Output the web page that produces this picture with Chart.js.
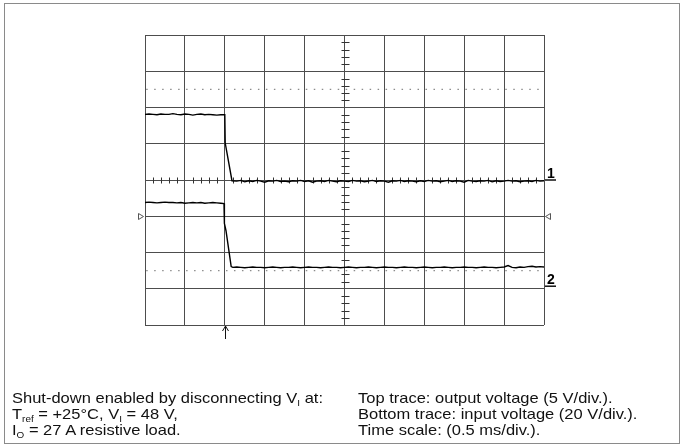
<!DOCTYPE html>
<html>
<head>
<meta charset="utf-8">
<script src="https://cdn.jsdelivr.net/npm/chart.js@4/dist/chart.umd.min.js"></script>
<style>
  html, body { margin: 0; padding: 0; background: #fff; }
  #page { position: relative; width: 683px; height: 446px; overflow: hidden; }
  #frame { position: absolute; left: 4px; top: 3px; width: 674px; height: 439px; border: 1px solid #8a8a8a; }
  #scope { position: absolute; left: 0; top: 0; }
  .note { position: absolute; font-family: "Liberation Sans", Arial, Helvetica, sans-serif; font-size: 15px;
          color: #111; white-space: nowrap; transform-origin: 0 0; transform: scaleX(1.1); line-height: 16px; }
  .note sub { font-size: 9px; vertical-align: -3px; line-height: 0; }
</style>
</head>
<body>
<div id="page">
  <div id="frame"></div>
  <canvas id="scope" width="683" height="446"></canvas>
  <div class="note" style="left:12px; top:390px;">
    Shut-down enabled by disconnecting V<sub>I</sub> at:<br>
    T<sub>ref</sub> = +25°C, V<sub>I</sub> = 48 V,<br>
    I<sub>O</sub> = 27 A resistive load.
  </div>
  <div class="note" style="left:358px; top:390px;">
    Top trace: output voltage (5 V/div.).<br>
    Bottom trace: input voltage (20 V/div.).<br>
    Time scale: (0.5 ms/div.).
  </div>
</div>
<script>
// Screen units: time in divisions (0..10), amplitude in divisions (-4..4, centre = 0)
const divisionsX = 10;
const divisionsY = 8;
const minorPerDiv = 5;

// Channel 1: output voltage (5 V/div), ground reference at 0 div
const ch1Times = [
  0.0, 0.1, 0.2, 0.3, 0.4, 0.5, 0.6, 0.7, 0.8, 0.9,
  1.0, 1.1, 1.2, 1.3, 1.4, 1.5, 1.6, 1.7, 1.8, 1.9,
  2.00, 2.01, 2.18,
  2.3, 2.4, 2.5, 2.6, 2.7, 2.8, 2.9, 3.0, 3.1, 3.2,
  3.3, 3.4, 3.5, 3.6, 3.7, 3.8, 3.9, 4.0, 4.1, 4.2,
  4.3, 4.4, 4.5, 4.6, 4.7, 4.8, 4.9, 5.0, 5.1, 5.2,
  5.3, 5.4, 5.5, 5.6, 5.7, 5.8, 5.9, 6.0, 6.1, 6.2,
  6.3, 6.4, 6.5, 6.6, 6.7, 6.8, 6.9, 7.0, 7.1, 7.2,
  7.3, 7.4, 7.5, 7.6, 7.7, 7.8, 7.9, 8.0, 8.1, 8.2,
  8.3, 8.4, 8.5, 8.6, 8.7, 8.8, 8.9, 9.0, 9.1, 9.2,
  9.3, 9.4, 9.5, 9.6, 9.7, 9.8, 9.9, 10.0
];
const ch1Values = [
  1.81, 1.82, 1.81, 1.80, 1.82, 1.81, 1.81, 1.83, 1.81, 1.80,
  1.82, 1.81, 1.79, 1.81, 1.82, 1.80, 1.81, 1.80, 1.79, 1.80,
  1.80, 1.02, -0.02,
  -0.03, -0.01, -0.05, -0.02, -0.04, -0.01, -0.03, -0.06, -0.02, -0.03,
  -0.01, -0.04, -0.03, -0.05, -0.02, -0.03, -0.01, -0.04, -0.02, -0.06,
  -0.03, -0.02, -0.04, -0.01, -0.03, -0.05, -0.02, -0.03, -0.04, -0.01,
  -0.03, -0.02, -0.05, -0.03, -0.01, -0.04, -0.02, -0.03, -0.06, -0.02,
  -0.03, -0.01, -0.04, -0.02, -0.03, -0.05, -0.02, -0.04, -0.01, -0.03,
  -0.02, -0.05, -0.03, -0.01, -0.04, -0.02, -0.03, -0.06, -0.01, -0.03,
  -0.04, -0.02, -0.03, -0.01, -0.05, -0.02, -0.04, -0.03, -0.01, -0.03,
  -0.02, -0.05, -0.03, -0.02, -0.04, -0.01, -0.03, -0.02
];

// Channel 2: input voltage (20 V/div), ground reference near -3 div
const ch2Times = [
  0.0, 0.1, 0.2, 0.3, 0.4, 0.5, 0.6, 0.7, 0.8, 0.9,
  1.0, 1.1, 1.2, 1.3, 1.4, 1.5, 1.6, 1.7, 1.8, 1.9,
  1.98, 1.99, 2.03, 2.16,
  2.2, 2.3, 2.4, 2.5, 2.6, 2.7, 2.8, 2.9, 3.0, 3.1,
  3.2, 3.3, 3.4, 3.5, 3.6, 3.7, 3.8, 3.9, 4.0, 4.1,
  4.2, 4.3, 4.4, 4.5, 4.6, 4.7, 4.8, 4.9, 5.0, 5.1,
  5.2, 5.3, 5.4, 5.5, 5.6, 5.7, 5.8, 5.9, 6.0, 6.1,
  6.2, 6.3, 6.4, 6.5, 6.6, 6.7, 6.8, 6.9, 7.0, 7.1,
  7.2, 7.3, 7.4, 7.5, 7.6, 7.7, 7.8, 7.9, 8.0, 8.1,
  8.2, 8.3, 8.4, 8.5, 8.6, 8.7, 8.8, 8.9, 9.0, 9.1,
  9.2, 9.3, 9.4, 9.5, 9.6, 9.7, 9.8, 9.9, 10.0
];
const ch2Values = [
  -0.62, -0.61, -0.62, -0.63, -0.62, -0.61, -0.62, -0.62, -0.63, -0.62,
  -0.64, -0.63, -0.62, -0.63, -0.62, -0.64, -0.63, -0.62, -0.63, -0.64,
  -0.65, -1.20, -1.40, -2.39,
  -2.41, -2.40, -2.41, -2.42, -2.41, -2.40, -2.41, -2.41, -2.42, -2.41,
  -2.40, -2.41, -2.42, -2.41, -2.41, -2.40, -2.41, -2.42, -2.41, -2.40,
  -2.41, -2.41, -2.42, -2.41, -2.40, -2.41, -2.41, -2.42, -2.41, -2.40,
  -2.41, -2.42, -2.41, -2.41, -2.40, -2.41, -2.42, -2.41, -2.40, -2.41,
  -2.41, -2.42, -2.41, -2.40, -2.41, -2.41, -2.42, -2.41, -2.40, -2.41,
  -2.42, -2.41, -2.41, -2.40, -2.41, -2.42, -2.41, -2.41, -2.40, -2.41,
  -2.41, -2.42, -2.41, -2.40, -2.41, -2.41, -2.42, -2.41, -2.40, -2.36,
  -2.41, -2.42, -2.40, -2.41, -2.39, -2.38, -2.40, -2.39, -2.40
];

// Dotted reference levels, trigger point and channel markers
const dottedLevels = [2.5, -2.5];
const triggerTime = 2.0;
const triggerLevel = -1.0;
const channelMarkers = [{ label: '1', level: 0 }, { label: '2', level: -2.93 }];

const toPoints = (ts, vs) => ts.map((t, i) => ({ x: t, y: vs[i] }));

const datasets = dottedLevels.map(level => ({
  data: [{ x: 0, y: level }, { x: divisionsX, y: level }],
  borderColor: '#8c8c8c',
  borderWidth: 1.3,
  borderDash: [1.5, 6.48],
  borderDashOffset: -1.2,
  pointRadius: 0
}));
datasets.push({
  data: toPoints(ch1Times, ch1Values),
  borderColor: '#000', borderWidth: 1.4, pointRadius: 0, tension: 0
});
datasets.push({
  data: toPoints(ch2Times, ch2Values),
  borderColor: '#000', borderWidth: 1.4, pointRadius: 0, tension: 0
});

const scopeOverlay = {
  id: 'scopeOverlay',
  beforeDatasetsDraw(chart) {
    const { ctx, scales: { x, y } } = chart;
    const cx = Math.round(x.getPixelForValue(divisionsX / 2)) + 0.5;
    const cy = Math.round(y.getPixelForValue(0)) + 0.5;
    ctx.save();
    ctx.strokeStyle = '#333';
    ctx.lineWidth = 1;
    ctx.beginPath();
    for (let i = 1; i < divisionsX * minorPerDiv; i++) {
      if (i % minorPerDiv === 0) continue;
      const px = Math.round(x.getPixelForValue(i / minorPerDiv)) + 0.5;
      ctx.moveTo(px, cy - 3); ctx.lineTo(px, cy + 3);
    }
    for (let j = 1; j < divisionsY * minorPerDiv; j++) {
      if (j % minorPerDiv === 0) continue;
      const py = Math.round(y.getPixelForValue(-divisionsY / 2 + j / minorPerDiv)) + 0.5;
      ctx.moveTo(cx - 4, py); ctx.lineTo(cx + 4, py);
    }
    ctx.stroke();
    ctx.restore();
  },
  afterDraw(chart) {
    const { ctx, chartArea: a, scales: { x, y } } = chart;
    ctx.save();
    // trigger level triangles
    const ty = Math.round(y.getPixelForValue(triggerLevel)) + 0.5;
    ctx.strokeStyle = '#555';
    ctx.lineWidth = 1;
    ctx.beginPath();
    ctx.moveTo(a.left - 6.5, ty - 3); ctx.lineTo(a.left - 1.5, ty); ctx.lineTo(a.left - 6.5, ty + 3); ctx.closePath();
    ctx.moveTo(a.right + 6.5, ty - 3); ctx.lineTo(a.right + 1.5, ty); ctx.lineTo(a.right + 6.5, ty + 3); ctx.closePath();
    ctx.stroke();
    // trigger time arrow below the graticule
    const tx = Math.round(x.getPixelForValue(triggerTime)) + 0.5;
    ctx.strokeStyle = '#111';
    ctx.beginPath();
    ctx.moveTo(tx, a.bottom + 1); ctx.lineTo(tx, a.bottom + 14);
    ctx.moveTo(tx - 3, a.bottom + 6); ctx.lineTo(tx, a.bottom + 1); ctx.lineTo(tx + 3, a.bottom + 6);
    ctx.stroke();
    // channel ground markers
    ctx.fillStyle = '#000';
    ctx.font = 'bold 14px "Liberation Sans", Arial, sans-serif';
    ctx.textAlign = 'center';
    ctx.textBaseline = 'alphabetic';
    ctx.lineWidth = 1.5;
    channelMarkers.forEach(m => {
      const my = y.getPixelForValue(m.level);
      ctx.fillText(m.label, a.right + 7, my - 2);
      ctx.beginPath();
      ctx.moveTo(a.right + 1, my); ctx.lineTo(a.right + 12, my);
      ctx.stroke();
    });
    ctx.restore();
  }
};

new Chart(document.getElementById('scope'), {
  type: 'line',
  data: { datasets },
  options: {
    responsive: false,
    animation: false,
    parsing: false,
    layout: { padding: { left: 145, right: 139, top: 35, bottom: 121 } },
    plugins: { legend: { display: false }, tooltip: { enabled: false } },
    scales: {
      x: {
        type: 'linear', min: 0, max: divisionsX,
        ticks: { display: false, stepSize: 1 },
        grid: { color: '#4d4d4d', lineWidth: 1, drawTicks: false },
        border: { display: false }
      },
      y: {
        type: 'linear', min: -divisionsY / 2, max: divisionsY / 2,
        ticks: { display: false, stepSize: 1 },
        grid: { color: '#4d4d4d', lineWidth: 1, drawTicks: false },
        border: { display: false }
      }
    }
  },
  plugins: [scopeOverlay]
});
</script>
</body>
</html>
